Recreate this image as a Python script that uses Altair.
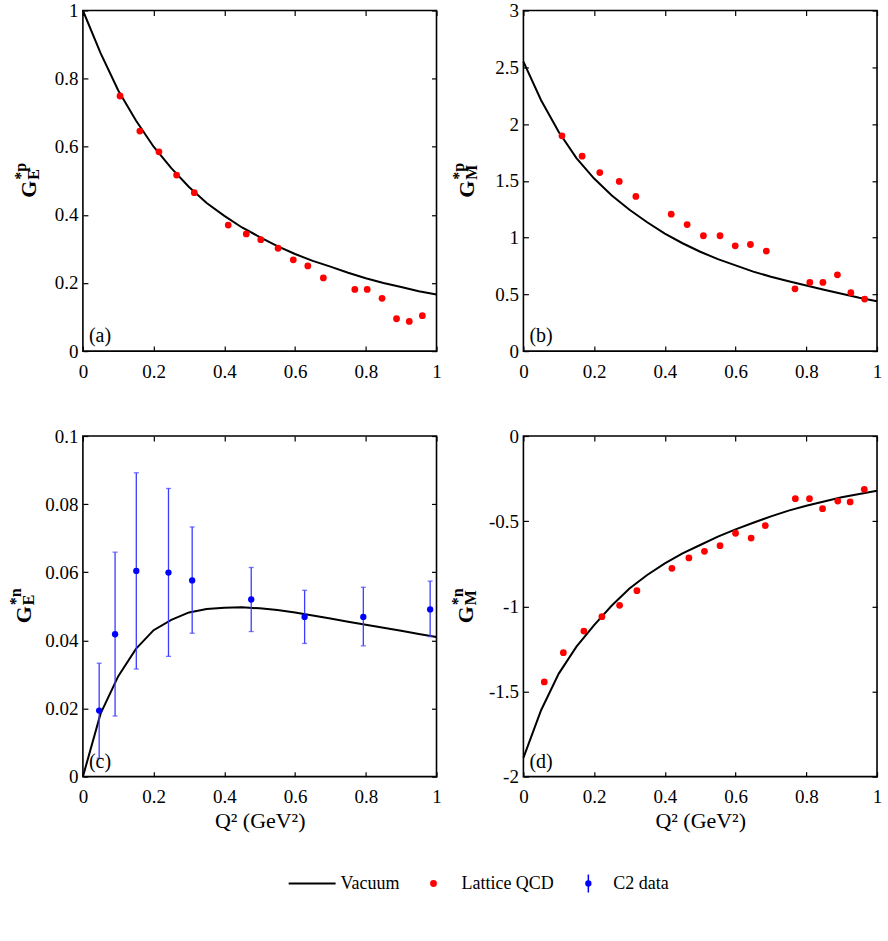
import altair as alt
import pandas as pd

# ---------------- data ----------------
q_curve = [0.0, 0.05, 0.1, 0.15, 0.2, 0.25, 0.3, 0.35, 0.4, 0.45, 0.5,
           0.55, 0.6, 0.65, 0.7, 0.75, 0.8, 0.85, 0.9, 0.95, 1.0]

vac_GEp = [1.0, 0.875, 0.765, 0.677, 0.600, 0.537, 0.482, 0.435, 0.397, 0.363, 0.335,
           0.308, 0.285, 0.265, 0.248, 0.230, 0.214, 0.200, 0.188, 0.176, 0.166]
vac_GMp = [2.55, 2.21, 1.93, 1.70, 1.52, 1.37, 1.245, 1.135, 1.035, 0.95, 0.875,
           0.81, 0.755, 0.70, 0.655, 0.615, 0.578, 0.54, 0.505, 0.47, 0.44]
vac_GEn = [0.0, 0.0185, 0.0295, 0.0375, 0.043, 0.046, 0.0482, 0.0492, 0.0496, 0.0497, 0.0494,
           0.0489, 0.0482, 0.0473, 0.0464, 0.0455, 0.0446, 0.0437, 0.0428, 0.0419, 0.041]
vac_GMn = [-1.89, -1.61, -1.395, -1.237, -1.11, -0.995, -0.895, -0.816, -0.748, -0.689, -0.64,
           -0.591, -0.548, -0.509, -0.472, -0.438, -0.409, -0.384, -0.36, -0.34, -0.321]

lqcd_GEp_q = [0.105, 0.161, 0.215, 0.265, 0.315, 0.411, 0.462, 0.503, 0.552, 0.595,
              0.636, 0.680, 0.769, 0.804, 0.846, 0.887, 0.923, 0.960]
lqcd_GEp = [0.749, 0.646, 0.585, 0.517, 0.465, 0.370, 0.344, 0.327, 0.302, 0.268,
            0.250, 0.215, 0.181, 0.181, 0.155, 0.095, 0.087, 0.104]

lqcd_GMp_q = [0.109, 0.166, 0.216, 0.271, 0.318, 0.418, 0.463, 0.509, 0.556, 0.599,
              0.642, 0.687, 0.768, 0.810, 0.847, 0.888, 0.926, 0.965]
lqcd_GMp = [1.896, 1.717, 1.573, 1.494, 1.362, 1.206, 1.115, 1.016, 1.016, 0.927,
            0.939, 0.881, 0.549, 0.605, 0.605, 0.672, 0.514, 0.458]

lqcd_GMn_q = [0.059, 0.113, 0.171, 0.222, 0.272, 0.321, 0.420, 0.468, 0.512, 0.556,
              0.600, 0.644, 0.684, 0.769, 0.809, 0.846, 0.889, 0.924, 0.964]
lqcd_GMn = [-1.444, -1.272, -1.145, -1.061, -0.994, -0.908, -0.777, -0.716, -0.677, -0.644,
            -0.571, -0.599, -0.526, -0.368, -0.368, -0.427, -0.382, -0.387, -0.313]

c2_q = [0.046, 0.091, 0.151, 0.242, 0.309, 0.476, 0.627, 0.793, 0.982]
c2_GEn = [0.0194, 0.0418, 0.0604, 0.0599, 0.0576, 0.052, 0.0469, 0.0469, 0.0491]
c2_hi = [0.0333, 0.0659, 0.0892, 0.0846, 0.0733, 0.0614, 0.0547, 0.0556, 0.0574]
c2_lo = [0.0054, 0.0178, 0.0316, 0.0353, 0.0421, 0.0426, 0.0391, 0.0384, 0.0411]

x_ticks = [0, 0.2, 0.4, 0.6, 0.8, 1]
legend_labels = ["Vacuum", "Lattice QCD", "C2 data"]
x_title = "Q\u00b2 (GeV\u00b2)"

# ---------------- styling ----------------
W, H = 354, 341
FONT = "Liberation Serif"
TICK = 5
LABEL_EXPR = "datum.value + ''"
RED = "#ff0000"
BLUE = "#0000ff"
ERR = "#3c3cff"
G_SIZE, S_SIZE = 22, 16


def one():
    return pd.DataFrame({"k": [0]})


def txt(text, x, y, size, angle=0, align="left", baseline="alphabetic", weight="normal"):
    kw = dict(text=text, align=align, baseline=baseline, font=FONT, fontSize=size,
              fontWeight=weight, color="black")
    if angle:
        kw["angle"] = angle
    return alt.Chart(one()).mark_text(**kw).encode(x=alt.value(x), y=alt.value(y))


def legend_layers():
    LY = H + 107
    return [
        alt.Chart(one()).mark_rule(color="black", strokeWidth=2.2).encode(
            x=alt.value(206), x2=alt.value(253), y=alt.value(LY)),
        txt(legend_labels[0], 258, LY, 18, baseline="middle"),
        alt.Chart(one()).mark_circle(color=RED, size=46, opacity=1).encode(
            x=alt.value(351), y=alt.value(LY)),
        txt(legend_labels[1], 379, LY, 18, baseline="middle"),
        alt.Chart(one()).mark_rule(color=BLUE, strokeWidth=1.5).encode(
            x=alt.value(506), y=alt.value(LY - 9), y2=alt.value(LY + 9)),
        alt.Chart(one()).mark_circle(color=BLUE, size=40, opacity=1).encode(
            x=alt.value(506), y=alt.value(LY)),
        txt(legend_labels[2], 531, LY, 18, baseline="middle"),
    ]


def panel(curve, pts_q, pts_y, ydom, yticks, sub, sup, letter, title_x, show_xtitle,
          err=None, legend=False):
    xs = alt.Scale(domain=[0, 1], nice=False, zero=False)
    ys = alt.Scale(domain=ydom, nice=False, zero=False)
    ax_bottom = alt.Axis(orient="bottom", values=x_ticks, labelExpr=LABEL_EXPR,
                         offset=-TICK, tickSize=TICK, labelPadding=11,
                         title=x_title if show_xtitle else None, titlePadding=4)
    ax_left = alt.Axis(orient="left", values=yticks, labelExpr=LABEL_EXPR,
                       offset=-TICK, tickSize=TICK, labelPadding=5, title=None)
    ax_top = alt.Axis(orient="top", values=x_ticks, labels=False, offset=-TICK,
                      tickSize=TICK, title=None)
    ax_right = alt.Axis(orient="right", values=yticks, labels=False, offset=-TICK,
                        tickSize=TICK, title=None)

    cdf = pd.DataFrame({"q": q_curve, "v": curve})
    line = alt.Chart(cdf).mark_line(color="black", strokeWidth=2).encode(
        x=alt.X("q:Q", scale=xs, axis=ax_bottom),
        y=alt.Y("v:Q", scale=ys, axis=ax_left),
    )
    layers = [line]

    pdf = pd.DataFrame({"q": pts_q, "v": pts_y})
    if err is not None:
        lo, hi = err
        edf = pd.DataFrame({"q": pts_q, "v": pts_y, "lo": lo, "hi": hi})
        bars = alt.Chart(edf).mark_rule(color=ERR, strokeWidth=1.3).encode(
            x=alt.X("q:Q", axis=None), y=alt.Y("lo:Q", axis=None), y2="hi:Q")
        cap_lo = alt.Chart(edf).mark_tick(color=ERR, orient="horizontal", size=5,
                                         thickness=1.3).encode(
            x=alt.X("q:Q", axis=None), y=alt.Y("lo:Q", axis=None))
        cap_hi = alt.Chart(edf).mark_tick(color=ERR, orient="horizontal", size=5,
                                         thickness=1.3).encode(
            x=alt.X("q:Q", axis=None), y=alt.Y("hi:Q", axis=None))
        layers += [bars, cap_lo, cap_hi]
        color, size = BLUE, 40
    else:
        color, size = RED, 46
    pts = alt.Chart(pdf).mark_circle(color=color, size=size, opacity=1).encode(
        x=alt.X("q:Q", scale=xs, axis=ax_top),
        y=alt.Y("v:Q", scale=ys, axis=ax_right),
    )
    layers.append(pts)

    # y-axis title G with sub/superscript (rotated)
    gw = 0.778 * G_SIZE
    L = gw + 1.056 * S_SIZE
    y0 = H / 2 + L / 2
    yg = y0 - gw - 1
    layers += [
        txt("G", title_x, y0, G_SIZE, angle=270, weight="bold"),
        txt(sub, title_x + 3, yg, S_SIZE, angle=270, weight="bold"),
        txt(sup, title_x - 10, yg, S_SIZE, angle=270, weight="bold"),
        txt(letter, 6, H - 9, 20),
    ]
    if legend:
        layers += legend_layers()

    return alt.layer(*layers).resolve_axis(x="independent", y="independent").properties(
        width=W, height=H)


pa = panel(vac_GEp, lqcd_GEp_q, lqcd_GEp, [0, 1], [0, 0.2, 0.4, 0.6, 0.8, 1],
           "E", "*p", "(a)", -46.5, False)
pb = panel(vac_GMp, lqcd_GMp_q, lqcd_GMp, [0, 3], [0, 0.5, 1, 1.5, 2, 2.5, 3],
           "M", "*p", "(b)", -49, False)
pc = panel(vac_GEn, c2_q, c2_GEn, [0, 0.1], [0, 0.02, 0.04, 0.06, 0.08, 0.1],
           "E", "*n", "(c)", -51.5, True, err=(c2_lo, c2_hi), legend=True)
pd_ = panel(vac_GMn, lqcd_GMn_q, lqcd_GMn, [-2, 0], [-2, -1.5, -1, -0.5, 0],
            "M", "*n", "(d)", -50, True)

chart = alt.concat(pa, pb, pc, pd_, columns=2, spacing={"row": 85, "column": 87},
                   bounds="flush").properties(
    padding={"left": 7, "top": 0, "right": 5, "bottom": 5},
    background="white",
).configure_view(
    stroke="black", strokeWidth=1.6
).configure_axis(
    labelFont=FONT, labelFontSize=19, labelColor="black",
    tickColor="black", tickWidth=1.2, domain=False, grid=False,
    labelFlush=False, labelOverlap=False,
    titleFont=FONT, titleFontSize=22, titleFontWeight="normal", titleColor="black",
)

chart.save("out.html", embed_options={"renderer": "svg", "actions": False})
